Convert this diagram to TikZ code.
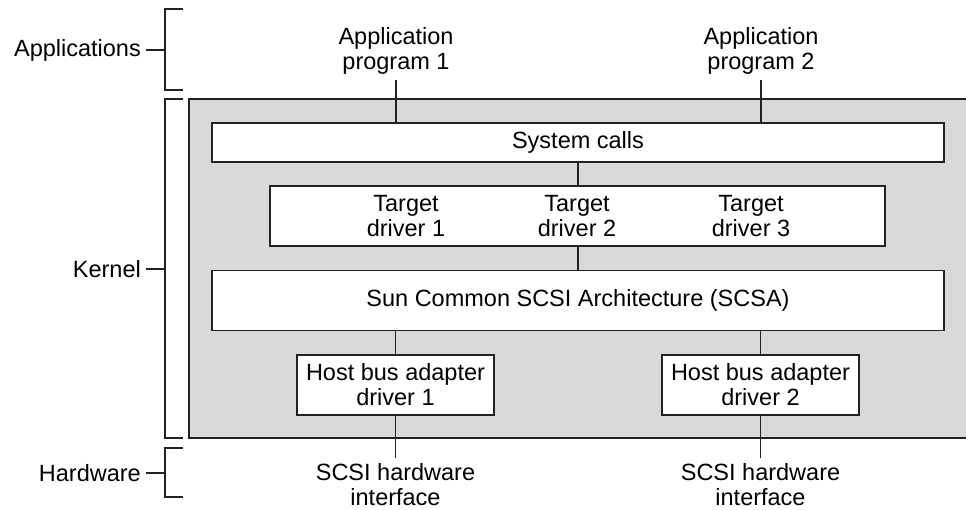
\documentclass[tikz,border=0pt]{standalone}
\usepackage{fontspec}
\setmainfont{Liberation Sans}
\definecolor{lineC}{HTML}{222222}
\definecolor{kernelC}{HTML}{D9D9D9}
\begin{document}
\begin{tikzpicture}[x=1pt,y=-1pt,
  every node/.style={font=\fontsize{23.5}{25}\selectfont, text=black},
  ln/.style={draw=lineC, line width=1.2pt},
  box/.style={draw=lineC, line width=1.2pt, fill=white, inner sep=0pt, align=center},
  lbl/.style={align=center, inner sep=0pt},
  side/.style={anchor=east, inner xsep=5pt, inner ysep=0pt}]
\useasboundingbox (0,0) rectangle (966,510);
% kernel background
\path[fill=kernelC, draw=lineC, line width=1.2pt] (189,99) rectangle (975,438);
% brackets
\draw[ln] (183,9) -- (165,9) -- (165,90) -- (183,90);
\draw[ln] (183,99) -- (165,99) -- (165,438) -- (183,438);
\draw[ln] (183,448) -- (165,448) -- (165,497) -- (183,497);
\coordinate (bA) at (165,50);
\coordinate (bK) at (165,269);
\coordinate (bH) at (165,473);
\node[side] (labA) at (146,50) {Applications};
\node[side] (labK) at (146,269) {Kernel};
\node[side] (labH) at (146,473) {Hardware};
\draw[ln] (labA.east) -- (bA);
\draw[ln] (labK.east) -- (bK);
\draw[ln] (labH.east) -- (bH);
% application programs
\node[lbl, anchor=south, inner ysep=5pt] (app1) at (396,80) {Application\\program 1};
\node[lbl, anchor=south, inner ysep=5pt] (app2) at (761,80) {Application\\program 2};
% boxes
\node[box, minimum width=732pt, minimum height=39pt] (sys) at (578,142.5) {System calls};
\node[box, minimum width=615pt, minimum height=60pt] (tgt) at (577.5,216) {};
\node[lbl] (t1) at (406,216) {Target\\driver 1};
\node[lbl] (t2) at (577,216) {Target\\driver 2};
\node[lbl] (t3) at (751,216) {Target\\driver 3};
\node[box, minimum width=732pt, minimum height=60pt] (scsa) at (578,300.5) {Sun Common SCSI Architecture (SCSA)};
\node[box, minimum width=197pt, minimum height=60pt] (hba1) at (395.5,385) {Host bus adapter\\driver 1};
\node[box, minimum width=197pt, minimum height=60pt] (hba2) at (760.5,385) {Host bus adapter\\driver 2};
% hardware interfaces
\node[lbl, anchor=north, inner ysep=5.5pt] (sc1) at (395.5,458) {SCSI hardware\\interface};
\node[lbl, anchor=north, inner ysep=5.5pt] (sc2) at (760.5,458) {SCSI hardware\\interface};
% connectors
\draw[ln] (app1.south) -- (app1.south |- sys.north);
\draw[ln] (app2.south) -- (app2.south |- sys.north);
\draw[ln] (sys.south) -- (sys.south |- tgt.north);
\draw[ln] (tgt.south -| sys.south) -- (sys.south |- scsa.north);
\draw[ln] (hba1.north) -- (hba1.north |- scsa.south);
\draw[ln] (hba2.north) -- (hba2.north |- scsa.south);
\draw[ln] (hba1.south) -- (sc1.north);
\draw[ln] (hba2.south) -- (sc2.north);
\end{tikzpicture}
\end{document}
